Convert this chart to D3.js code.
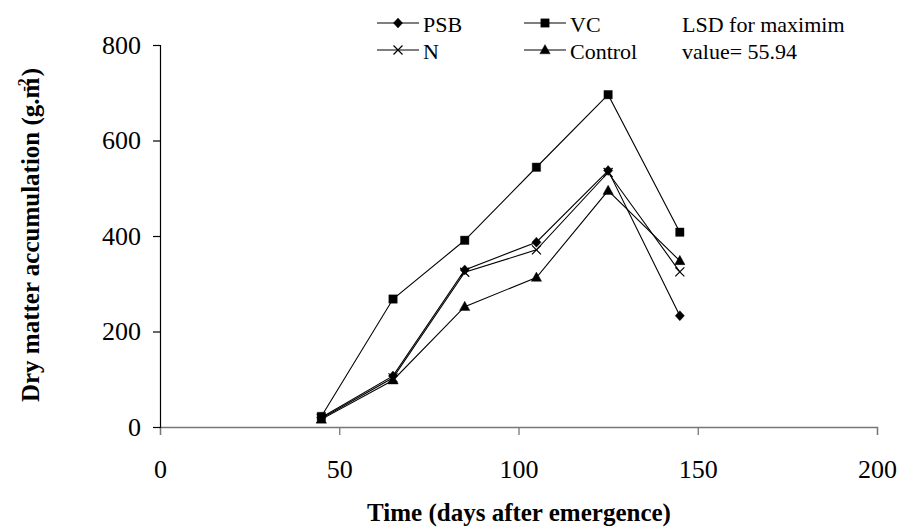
<!DOCTYPE html>
<html><head><meta charset="utf-8">
<script src="https://cdn.jsdelivr.net/npm/d3@7"></script>
<style>body{margin:0;background:#fff}svg{display:block}</style>
</head><body><svg id="c" width="898" height="528"></svg>
<script>
const days = [45, 65, 85, 105, 125, 145];
const psb = [20, 107, 329, 387, 537, 233];
const vc = [22, 268, 391, 544, 696, 408];
const nTrt = [18, 103, 324, 371, 533, 325];
const control = [16, 98, 252, 313, 495, 348];
const xTicks = [0, 50, 100, 150, 200];
const yTicks = [0, 200, 400, 600, 800];
const seriesNames = ["PSB", "VC", "N", "Control"];
const seriesSymbols = ["diamond", "square", "cross", "triangle"];
const seriesData = [psb, vc, nTrt, control];

const svg = d3.select("#c");
const font = "'Liberation Serif','Times New Roman',serif";
const x = d3.scaleLinear().domain([0, 200]).range([160, 877]);
const y = d3.scaleLinear().domain([0, 800]).range([427, 45]);

// axes
const xa = svg.append("g").attr("transform", "translate(0,427)")
  .call(d3.axisBottom(x).tickValues(xTicks).tickSize(8).tickPadding(25).tickFormat(d3.format("d")));
xa.attr("font-family", font);
xa.select(".domain").attr("stroke", "#777").attr("stroke-width", 1.3);
xa.selectAll(".tick line").attr("stroke", "#777").attr("stroke-width", 1.3);
xa.selectAll("text").attr("font-family", font).attr("font-size", 26).attr("fill", "#000");

const ya = svg.append("g").attr("transform", "translate(160,0)")
  .call(d3.axisLeft(y).tickValues(yTicks).tickSize(7).tickPadding(12).tickFormat(d3.format("d")));
ya.attr("font-family", font);
ya.select(".domain").attr("stroke", "#000").attr("stroke-width", 1.2);
ya.selectAll(".tick line").attr("stroke", "#000").attr("stroke-width", 1.2);
ya.selectAll("text").attr("font-family", font).attr("font-size", 26).attr("fill", "#000");

function sym(name) {
  const p = d3.path();
  if (name === "diamond") {
    p.moveTo(0, -5); p.lineTo(4.6, 0); p.lineTo(0, 5); p.lineTo(-4.6, 0); p.closePath();
  } else if (name === "square") {
    p.rect(-4.2, -4.2, 8.4, 8.4);
  } else if (name === "triangle") {
    p.moveTo(0, -5.5); p.lineTo(5.2, 3.8); p.lineTo(-5.2, 3.8); p.closePath();
  } else {
    p.moveTo(-4.5, -4.5); p.lineTo(4.5, 4.5); p.moveTo(4.5, -4.5); p.lineTo(-4.5, 4.5);
  }
  return p.toString();
}

const line = d3.line().x((d, i) => x(days[i])).y(d => y(d));
seriesData.forEach((vals, k) => {
  const g = svg.append("g");
  g.append("path").attr("d", line(vals)).attr("fill", "none").attr("stroke", "#000").attr("stroke-width", 1.1);
  const s = seriesSymbols[k];
  g.selectAll("path.m").data(vals).enter().append("path").attr("class", "m")
    .attr("transform", (d, i) => `translate(${x(days[i])},${y(d)})`)
    .attr("d", sym(s))
    .attr("fill", s === "cross" ? "none" : "#000")
    .attr("stroke", "#000").attr("stroke-width", s === "cross" ? 1.2 : 0.4);
});

// legend
const legPos = [[377, 23], [524, 23], [377, 50], [524, 50]];
seriesNames.forEach((nm, k) => {
  const [lx, ly] = legPos[k];
  const g = svg.append("g");
  g.append("line").attr("x1", lx).attr("x2", lx + 42).attr("y1", ly).attr("y2", ly)
    .attr("stroke", "#000").attr("stroke-width", 1.1);
  const s = seriesSymbols[k];
  g.append("path").attr("transform", `translate(${lx + 21},${ly})`).attr("d", sym(s))
    .attr("fill", s === "cross" ? "none" : "#000").attr("stroke", "#000").attr("stroke-width", s === "cross" ? 1.2 : 0.4);
  g.append("text").attr("x", lx + 46).attr("y", ly + 9).text(nm)
    .attr("font-family", font).attr("font-size", 22).attr("fill", "#000");
});
svg.append("text").attr("x", 682).attr("y", 32).text("LSD for maximim")
  .attr("font-family", font).attr("font-size", 22);
svg.append("text").attr("x", 682).attr("y", 59).text("value= 55.94")
  .attr("font-family", font).attr("font-size", 22);

// titles
svg.append("text").attr("x", 519).attr("y", 521).attr("text-anchor", "middle")
  .attr("font-family", font).attr("font-size", 25).attr("font-weight", "bold")
  .text("Time (days after emergence)");
const yt = svg.append("text").attr("transform", "translate(39,235) rotate(-90)").attr("text-anchor", "middle")
  .attr("font-family", font).attr("font-size", 25).attr("font-weight", "bold");
yt.append("tspan").text("Dry matter accumulation (g.m");
yt.append("tspan").attr("font-size", 16).attr("dy", -10).attr("dx", -14).text("-2");
yt.append("tspan").attr("dy", 10).attr("dx", 2).text(")");
</script></body></html>
